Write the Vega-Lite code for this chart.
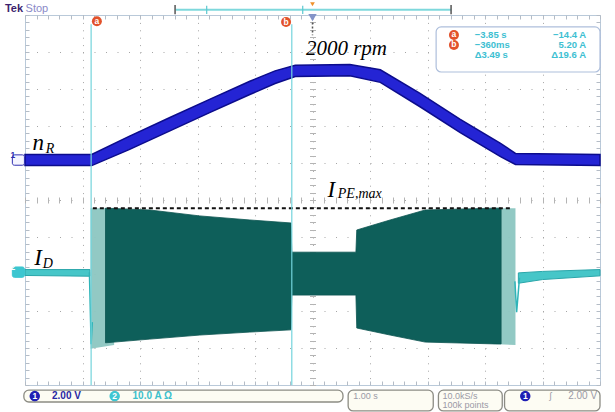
{
  "$schema": "https://vega.github.io/schema/vega-lite/v6.json",
  "width": 575,
  "height": 370,
  "autosize": {"type": "none"},
  "padding": {"left": 25, "top": 15, "right": 15, "bottom": 27},
  "background": "white",
  "config": {"view": {"stroke": "#b9c9d9", "strokeWidth": 1}, "text": {"font": "Liberation Sans"}},
  "resolve": {"axis": {"x": "independent", "y": "independent"}},
  "datasets": {
    "speed": [
      {"t": -5.0, "lo": 0.93, "hi": 1.23},
      {"t": -3.84, "lo": 0.93, "hi": 1.23},
      {"t": -3.19, "lo": 1.36, "hi": 1.72},
      {"t": -2.48, "lo": 1.87, "hi": 2.23},
      {"t": -1.79, "lo": 2.36, "hi": 2.72},
      {"t": -1.09, "lo": 2.85, "hi": 3.21},
      {"t": -0.65, "lo": 3.15, "hi": 3.49},
      {"t": -0.30, "lo": 3.34, "hi": 3.64},
      {"t": 0.65, "lo": 3.36, "hi": 3.66},
      {"t": 1.18, "lo": 3.18, "hi": 3.52},
      {"t": 1.87, "lo": 2.52, "hi": 2.88},
      {"t": 2.57, "lo": 1.82, "hi": 2.18},
      {"t": 3.27, "lo": 1.17, "hi": 1.53},
      {"t": 3.53, "lo": 0.96, "hi": 1.26},
      {"t": 5.0, "lo": 0.93, "hi": 1.23}
    ],
    "cur_pre": [
      {"t": -5.0, "lo": -2.04, "hi": -1.88},
      {"t": -3.87, "lo": -2.06, "hi": -1.88}
    ],
    "cur_pale": [
      {"seg": "A", "t": -3.86, "lo": -4.02, "hi": -0.22},
      {"seg": "A", "t": -3.45, "lo": -3.92, "hi": -0.22},
      {"seg": "B", "t": 3.12, "lo": -3.89, "hi": -0.22},
      {"seg": "B", "t": 3.53, "lo": -3.92, "hi": -0.22}
    ],
    "cur_dark": [
      {"t": -3.60, "lo": -3.86, "hi": -0.22},
      {"t": -2.83, "lo": -3.76, "hi": -0.27},
      {"t": -1.96, "lo": -3.65, "hi": -0.43},
      {"t": -1.09, "lo": -3.57, "hi": -0.54},
      {"t": -0.375, "lo": -3.51, "hi": -0.62},
      {"t": -0.36, "lo": -2.57, "hi": -1.41},
      {"t": 0.755, "lo": -2.57, "hi": -1.41},
      {"t": 0.77, "lo": -3.46, "hi": -0.81},
      {"t": 1.35, "lo": -3.65, "hi": -0.54},
      {"t": 1.96, "lo": -3.84, "hi": -0.27},
      {"t": 3.18, "lo": -3.89, "hi": -0.22},
      {"t": 3.28, "lo": -3.89, "hi": -0.22}
    ],
    "cur_post": [
      {"t": 3.58, "lo": -2.25, "hi": -1.97},
      {"t": 4.0, "lo": -2.15, "hi": -1.93},
      {"t": 5.0, "lo": -2.05, "hi": -1.88}
    ],
    "spikes": [
      {"seg": "s1", "t": -3.88, "v": -1.95},
      {"seg": "s1", "t": -3.85, "v": -3.9},
      {"seg": "s1", "t": -3.83, "v": -3.3},
      {"seg": "s2", "t": 3.52, "v": -2.2},
      {"seg": "s2", "t": 3.55, "v": -3.03},
      {"seg": "s2", "t": 3.60, "v": -2.1}
    ],
    "ipe": [{"t": -3.82, "t2": 3.44, "v": -0.22}],
    "cursors": [
      {"t": -3.85, "v": 4.75, "v2": -5.0},
      {"t": -0.36, "v": 4.75, "v2": -5.0}
    ],
    "cursor_marks": [
      {"t": -3.75, "v": 4.83, "label": "a"},
      {"t": -0.46, "v": 4.81, "label": "b"},
      {"t": 2.46, "v": 4.46, "label": "a"},
      {"t": 2.46, "v": 4.19, "label": "b"}
    ],
    "readout_box": [{"t": 2.15, "t2": 5.0, "v": 4.68, "v2": 3.46}],
    "readout_left": [
      {"t": 2.82, "v": 4.46, "label": "−3.85 s"},
      {"t": 2.82, "v": 4.19, "label": "−360ms"},
      {"t": 2.82, "v": 3.92, "label": "Δ3.49 s"}
    ],
    "readout_right": [
      {"t": 4.76, "v": 4.46, "label": "−14.4 A"},
      {"t": 4.76, "v": 4.19, "label": "5.20 A"},
      {"t": 4.76, "v": 3.92, "label": "Δ19.6 A"}
    ],
    "trig_bar": [{"t": -2.38, "t2": 2.41, "v": 5.14}],
    "trig_ticks": [
      {"t": -1.84, "v": 5.03, "v2": 5.25},
      {"t": -0.17, "v": 5.03, "v2": 5.25}
    ],
    "brackets": [
      {"t": -2.39, "v": 5.02, "v2": 5.27},
      {"t": 2.41, "v": 5.02, "v2": 5.27}
    ],
    "trig_pos": [{"t": 0.0, "v": 5.29}],
    "trig_mark": [{"t": 0.0, "v": 4.93}],
    "trig_line": [{"t": 0.0, "v": 4.8, "v2": 4.45}],
    "ch_box": [
      {"ch": "1", "t": -5.22, "t2": -5.01, "v": 1.22, "v2": 0.94},
      {"ch": "2", "t": -5.22, "t2": -5.01, "v": -1.81, "v2": -2.09}
    ],
    "foot_box": [
      {"t": -5.02, "t2": 0.53, "v": -5.14, "v2": -5.46},
      {"t": 0.62, "t2": 2.10, "v": -5.14, "v2": -5.70},
      {"t": 2.19, "t2": 3.30, "v": -5.14, "v2": -5.70},
      {"t": 3.34, "t2": 5.0, "v": -5.14, "v2": -5.70}
    ],
    "foot_blue_dot": [
      {"t": -4.83, "v": -5.30, "label": "1"},
      {"t": 3.70, "v": -5.30, "label": "1"}
    ],
    "foot_cyan_dot": [{"t": -3.44, "v": -5.30, "label": "2"}],
    "foot_blue_text": [{"t": -4.53, "v": -5.30, "label": "2.00 V"}],
    "foot_cyan_text": [{"t": -3.13, "v": -5.30, "label": "10.0 A  Ω"}],
    "foot_gray_text": [
      {"t": 0.71, "v": -5.30, "label": "1.00 s"},
      {"t": 2.26, "v": -5.30, "label": "10.0kS/s"},
      {"t": 2.26, "v": -5.55, "label": "100k points"},
      {"t": 4.12, "v": -5.30, "label": "ʃ"}
    ],
    "foot_right_text": [{"t": 4.95, "v": -5.30, "label": "2.00 V"}],
    "tek": [{"t": -5.35, "v": 5.16, "label": "Tek"}],
    "stop": [{"t": -4.99, "v": 5.16, "label": "Stop"}],
    "big_it": [
      {"t": 0.59, "v": 3.93, "label": "2000 rpm"}
    ],
    "main_sym": [
      {"t": -4.87, "v": 1.35, "label": "n"},
      {"t": -4.84, "v": -1.76, "label": "I"},
      {"t": 0.26, "v": 0.08, "label": "I"}
    ],
    "sub_sym": [
      {"t": -4.64, "v": 1.27, "label": "R"},
      {"t": -4.69, "v": -1.83, "label": "D"},
      {"t": 0.44, "v": 0.05, "label": "PE,max"}
    ]
  },
  "layer": [
    {
      "data": {"name": "speed"},
      "mark": {"type": "area", "color": "#2424d4", "stroke": "#0c0c8c", "strokeWidth": 1.5},
      "encoding": {
        "x": {"field": "t", "type": "quantitative", "scale": {"domain": [-5, 5], "nice": false, "zero": false},
              "axis": {"orient": "bottom", "values": [-4, -3, -2, -1, 0, 1, 2, 3, 4], "grid": true, "gridColor": "#a6a6a6", "gridDash": [1, 6.4], "gridWidth": 1, "ticks": false, "labels": false, "domain": false, "title": null}},
        "y": {"field": "lo", "type": "quantitative", "scale": {"domain": [-5, 5], "nice": false, "zero": false},
              "axis": {"orient": "left", "values": [-4, -3, -2, -1, 0, 1, 2, 3, 4], "grid": true, "gridColor": "#a6a6a6", "gridDash": [1, 10.5], "gridWidth": 1, "ticks": false, "labels": false, "domain": false, "title": null}},
        "y2": {"field": "hi"}
      }
    },
    {
      "data": {"name": "cur_pre"},
      "mark": {"type": "area", "color": "#46c6c8", "stroke": "#2aa6aa", "strokeWidth": 1},
      "encoding": {
        "x": {"field": "t", "type": "quantitative", "scale": {"domain": [-5, 5], "nice": false, "zero": false},
              "axis": {"orient": "bottom", "offset": -188, "tickCount": 50, "tickSize": 6, "tickColor": "#b4b4b4", "grid": false, "labels": false, "domain": false, "title": null}},
        "y": {"field": "lo", "type": "quantitative", "scale": {"domain": [-5, 5], "nice": false, "zero": false},
              "axis": {"orient": "left", "offset": -290.5, "tickCount": 50, "tickSize": 6, "tickColor": "#b4b4b4", "grid": false, "labels": false, "domain": false, "title": null}},
        "y2": {"field": "hi"}
      }
    },
    {
      "data": {"name": "cur_pale"},
      "mark": {"type": "area", "color": "#8cc6c1", "opacity": 0.95},
      "encoding": {
        "x": {"field": "t", "type": "quantitative", "scale": {"domain": [-5, 5], "nice": false, "zero": false},
              "axis": {"orient": "bottom", "offset": -370, "tickCount": 50, "tickSize": 4, "tickColor": "#b4bcc6", "grid": false, "labels": false, "domain": false, "title": null}},
        "y": {"field": "lo", "type": "quantitative", "scale": {"domain": [-5, 5], "nice": false, "zero": false},
              "axis": {"orient": "left", "offset": -575, "tickCount": 50, "tickSize": 4, "tickColor": "#b4bcc6", "grid": false, "labels": false, "domain": false, "title": null}},
        "y2": {"field": "hi"},
        "detail": {"field": "seg"}
      }
    },
    {
      "data": {"name": "cur_dark"},
      "mark": {"type": "area", "color": "#0e5f5a", "stroke": "#0b5450", "strokeWidth": 0.8},
      "encoding": {
        "x": {"field": "t", "type": "quantitative", "scale": {"domain": [-5, 5], "nice": false, "zero": false},
              "axis": {"orient": "top", "offset": -370, "tickCount": 50, "tickSize": 4, "tickColor": "#b4bcc6", "grid": false, "labels": false, "domain": false, "title": null}},
        "y": {"field": "lo", "type": "quantitative", "scale": {"domain": [-5, 5], "nice": false, "zero": false},
              "axis": {"orient": "right", "offset": -575, "tickCount": 50, "tickSize": 4, "tickColor": "#b4bcc6", "grid": false, "labels": false, "domain": false, "title": null}},
        "y2": {"field": "hi"}
      }
    },
    {
      "data": {"name": "cur_post"},
      "mark": {"type": "area", "color": "#46c6c8", "stroke": "#2aa6aa", "strokeWidth": 1},
      "encoding": {
        "x": {"field": "t", "type": "quantitative", "scale": {"domain": [-5, 5], "nice": false, "zero": false}, "axis": null},
        "y": {"field": "lo", "type": "quantitative", "scale": {"domain": [-5, 5], "nice": false, "zero": false}, "axis": null},
        "y2": {"field": "hi"}
      }
    },
    {
      "data": {"name": "spikes"},
      "mark": {"type": "line", "color": "#2fb4b8", "strokeWidth": 1.5},
      "encoding": {
        "x": {"field": "t", "type": "quantitative", "scale": {"domain": [-5, 5], "nice": false, "zero": false}, "axis": null},
        "y": {"field": "v", "type": "quantitative", "scale": {"domain": [-5, 5], "nice": false, "zero": false}, "axis": null},
        "detail": {"field": "seg"}
      }
    },
    {
      "data": {"name": "ipe"},
      "mark": {"type": "rule", "color": "#111111", "strokeWidth": 2, "strokeDash": [4, 3]},
      "encoding": {
        "x": {"field": "t", "type": "quantitative", "scale": {"domain": [-5, 5], "nice": false, "zero": false}, "axis": null},
        "x2": {"field": "t2"},
        "y": {"field": "v", "type": "quantitative", "scale": {"domain": [-5, 5], "nice": false, "zero": false}, "axis": null}
      }
    },
    {
      "data": {"name": "cursors"},
      "mark": {"type": "rule", "color": "#74d4dc", "strokeWidth": 1.2},
      "encoding": {
        "x": {"field": "t", "type": "quantitative", "scale": {"domain": [-5, 5], "nice": false, "zero": false}, "axis": null},
        "y": {"field": "v", "type": "quantitative", "scale": {"domain": [-5, 5], "nice": false, "zero": false}, "axis": null},
        "y2": {"field": "v2"}
      }
    },
    {
      "data": {"name": "readout_box"},
      "mark": {"type": "rect", "fill": "white", "stroke": "#aebfdc", "strokeWidth": 1.2, "cornerRadius": 5},
      "encoding": {
        "x": {"field": "t", "type": "quantitative", "scale": {"domain": [-5, 5], "nice": false, "zero": false}, "axis": null},
        "x2": {"field": "t2"},
        "y": {"field": "v", "type": "quantitative", "scale": {"domain": [-5, 5], "nice": false, "zero": false}, "axis": null},
        "y2": {"field": "v2"}
      }
    },
    {
      "data": {"name": "cursor_marks"},
      "mark": {"type": "point", "shape": "circle", "filled": true, "color": "#e2522b", "opacity": 1, "size": 100},
      "encoding": {
        "x": {"field": "t", "type": "quantitative", "scale": {"domain": [-5, 5], "nice": false, "zero": false}, "axis": null},
        "y": {"field": "v", "type": "quantitative", "scale": {"domain": [-5, 5], "nice": false, "zero": false}, "axis": null}
      }
    },
    {
      "data": {"name": "cursor_marks"},
      "mark": {"type": "text", "color": "white", "fontSize": 8.5, "fontWeight": "bold", "align": "center", "baseline": "middle", "dy": -0.5},
      "encoding": {
        "x": {"field": "t", "type": "quantitative", "scale": {"domain": [-5, 5], "nice": false, "zero": false}, "axis": null},
        "y": {"field": "v", "type": "quantitative", "scale": {"domain": [-5, 5], "nice": false, "zero": false}, "axis": null},
        "text": {"field": "label"}
      }
    },
    {
      "data": {"name": "readout_left"},
      "mark": {"type": "text", "color": "#3ec0d2", "fontSize": 9.5, "fontWeight": "bold", "align": "left", "baseline": "middle"},
      "encoding": {
        "x": {"field": "t", "type": "quantitative", "scale": {"domain": [-5, 5], "nice": false, "zero": false}, "axis": null},
        "y": {"field": "v", "type": "quantitative", "scale": {"domain": [-5, 5], "nice": false, "zero": false}, "axis": null},
        "text": {"field": "label"}
      }
    },
    {
      "data": {"name": "readout_right"},
      "mark": {"type": "text", "color": "#3ec0d2", "fontSize": 9.5, "fontWeight": "bold", "align": "right", "baseline": "middle"},
      "encoding": {
        "x": {"field": "t", "type": "quantitative", "scale": {"domain": [-5, 5], "nice": false, "zero": false}, "axis": null},
        "y": {"field": "v", "type": "quantitative", "scale": {"domain": [-5, 5], "nice": false, "zero": false}, "axis": null},
        "text": {"field": "label"}
      }
    },
    {
      "data": {"name": "trig_bar"},
      "mark": {"type": "rule", "color": "#7ed8dc", "strokeWidth": 2},
      "encoding": {
        "x": {"field": "t", "type": "quantitative", "scale": {"domain": [-5, 5], "nice": false, "zero": false}, "axis": null},
        "x2": {"field": "t2"},
        "y": {"field": "v", "type": "quantitative", "scale": {"domain": [-5, 5], "nice": false, "zero": false}, "axis": null}
      }
    },
    {
      "data": {"name": "trig_ticks"},
      "mark": {"type": "rule", "color": "#5cc8d0", "strokeWidth": 1.2},
      "encoding": {
        "x": {"field": "t", "type": "quantitative", "scale": {"domain": [-5, 5], "nice": false, "zero": false}, "axis": null},
        "y": {"field": "v", "type": "quantitative", "scale": {"domain": [-5, 5], "nice": false, "zero": false}, "axis": null},
        "y2": {"field": "v2"}
      }
    },
    {
      "data": {"name": "brackets"},
      "mark": {"type": "rule", "color": "#555555", "strokeWidth": 1.5},
      "encoding": {
        "x": {"field": "t", "type": "quantitative", "scale": {"domain": [-5, 5], "nice": false, "zero": false}, "axis": null},
        "y": {"field": "v", "type": "quantitative", "scale": {"domain": [-5, 5], "nice": false, "zero": false}, "axis": null},
        "y2": {"field": "v2"}
      }
    },
    {
      "data": {"name": "trig_pos"},
      "mark": {"type": "point", "shape": "triangle-down", "filled": true, "color": "#f0902a", "opacity": 1, "size": 22},
      "encoding": {
        "x": {"field": "t", "type": "quantitative", "scale": {"domain": [-5, 5], "nice": false, "zero": false}, "axis": null},
        "y": {"field": "v", "type": "quantitative", "scale": {"domain": [-5, 5], "nice": false, "zero": false}, "axis": null}
      }
    },
    {
      "data": {"name": "trig_line"},
      "mark": {"type": "rule", "color": "#555555", "strokeWidth": 1.5, "strokeDash": [2, 2]},
      "encoding": {
        "x": {"field": "t", "type": "quantitative", "scale": {"domain": [-5, 5], "nice": false, "zero": false}, "axis": null},
        "y": {"field": "v", "type": "quantitative", "scale": {"domain": [-5, 5], "nice": false, "zero": false}, "axis": null},
        "y2": {"field": "v2"}
      }
    },
    {
      "data": {"name": "trig_mark"},
      "mark": {"type": "point", "shape": "triangle-down", "filled": true, "color": "#8494c8", "opacity": 1, "size": 70},
      "encoding": {
        "x": {"field": "t", "type": "quantitative", "scale": {"domain": [-5, 5], "nice": false, "zero": false}, "axis": null},
        "y": {"field": "v", "type": "quantitative", "scale": {"domain": [-5, 5], "nice": false, "zero": false}, "axis": null}
      }
    },
    {
      "data": {"name": "tek"},
      "mark": {"type": "text", "color": "#3d1f6e", "fontSize": 11, "fontWeight": "bold", "align": "left", "baseline": "middle"},
      "encoding": {
        "x": {"field": "t", "type": "quantitative", "scale": {"domain": [-5, 5], "nice": false, "zero": false}, "axis": null},
        "y": {"field": "v", "type": "quantitative", "scale": {"domain": [-5, 5], "nice": false, "zero": false}, "axis": null},
        "text": {"field": "label"}
      }
    },
    {
      "data": {"name": "stop"},
      "mark": {"type": "text", "color": "#8a8ac8", "fontSize": 11, "align": "left", "baseline": "middle"},
      "encoding": {
        "x": {"field": "t", "type": "quantitative", "scale": {"domain": [-5, 5], "nice": false, "zero": false}, "axis": null},
        "y": {"field": "v", "type": "quantitative", "scale": {"domain": [-5, 5], "nice": false, "zero": false}, "axis": null},
        "text": {"field": "label"}
      }
    },
    {
      "data": {"name": "ch_box"},
      "mark": {"type": "rect", "cornerRadius": 2, "strokeWidth": 1},
      "encoding": {
        "x": {"field": "t", "type": "quantitative", "scale": {"domain": [-5, 5], "nice": false, "zero": false}, "axis": null},
        "x2": {"field": "t2"},
        "y": {"field": "v", "type": "quantitative", "scale": {"domain": [-5, 5], "nice": false, "zero": false}, "axis": null},
        "y2": {"field": "v2"},
        "fill": {"field": "ch", "type": "nominal", "scale": {"domain": ["1", "2"], "range": ["#f4f4ff", "#3cc6d0"]}, "legend": null},
        "stroke": {"field": "ch", "type": "nominal", "scale": {"domain": ["1", "2"], "range": ["#3030b0", "#3cc6d0"]}, "legend": null}
      }
    },
    {
      "data": {"name": "ch_box"},
      "mark": {"type": "text", "fontSize": 8.5, "fontWeight": "bold", "align": "center", "baseline": "middle", "dx": 0.5},
      "encoding": {
        "x": {"field": "t", "type": "quantitative", "scale": {"domain": [-5, 5], "nice": false, "zero": false}, "axis": null},
        "x2": {"field": "t2"},
        "y": {"field": "v", "type": "quantitative", "scale": {"domain": [-5, 5], "nice": false, "zero": false}, "axis": null},
        "y2": {"field": "v2"},
        "text": {"field": "ch"},
        "color": {"field": "ch", "type": "nominal", "scale": {"domain": ["1", "2"], "range": ["#3030b0", "#ffffff"]}, "legend": null}
      }
    },
    {
      "data": {"name": "foot_box"},
      "mark": {"type": "rect", "fill": "#fdfcf3", "stroke": "#8c8c84", "strokeWidth": 1.3, "cornerRadius": 5},
      "encoding": {
        "x": {"field": "t", "type": "quantitative", "scale": {"domain": [-5, 5], "nice": false, "zero": false}, "axis": null},
        "x2": {"field": "t2"},
        "y": {"field": "v", "type": "quantitative", "scale": {"domain": [-5, 5], "nice": false, "zero": false}, "axis": null},
        "y2": {"field": "v2"}
      }
    },
    {
      "data": {"name": "foot_blue_dot"},
      "mark": {"type": "point", "shape": "circle", "filled": true, "color": "#1e1eb4", "opacity": 1, "size": 110},
      "encoding": {
        "x": {"field": "t", "type": "quantitative", "scale": {"domain": [-5, 5], "nice": false, "zero": false}, "axis": null},
        "y": {"field": "v", "type": "quantitative", "scale": {"domain": [-5, 5], "nice": false, "zero": false}, "axis": null}
      }
    },
    {
      "data": {"name": "foot_cyan_dot"},
      "mark": {"type": "point", "shape": "circle", "filled": true, "color": "#3cc6d2", "opacity": 1, "size": 110},
      "encoding": {
        "x": {"field": "t", "type": "quantitative", "scale": {"domain": [-5, 5], "nice": false, "zero": false}, "axis": null},
        "y": {"field": "v", "type": "quantitative", "scale": {"domain": [-5, 5], "nice": false, "zero": false}, "axis": null}
      }
    },
    {
      "data": {"name": "foot_blue_dot"},
      "mark": {"type": "text", "color": "white", "fontSize": 8.5, "fontWeight": "bold", "align": "center", "baseline": "middle"},
      "encoding": {
        "x": {"field": "t", "type": "quantitative", "scale": {"domain": [-5, 5], "nice": false, "zero": false}, "axis": null},
        "y": {"field": "v", "type": "quantitative", "scale": {"domain": [-5, 5], "nice": false, "zero": false}, "axis": null},
        "text": {"field": "label"}
      }
    },
    {
      "data": {"name": "foot_cyan_dot"},
      "mark": {"type": "text", "color": "white", "fontSize": 8.5, "fontWeight": "bold", "align": "center", "baseline": "middle"},
      "encoding": {
        "x": {"field": "t", "type": "quantitative", "scale": {"domain": [-5, 5], "nice": false, "zero": false}, "axis": null},
        "y": {"field": "v", "type": "quantitative", "scale": {"domain": [-5, 5], "nice": false, "zero": false}, "axis": null},
        "text": {"field": "label"}
      }
    },
    {
      "data": {"name": "foot_blue_text"},
      "mark": {"type": "text", "color": "#2828a4", "fontSize": 10, "fontWeight": "bold", "align": "left", "baseline": "middle"},
      "encoding": {
        "x": {"field": "t", "type": "quantitative", "scale": {"domain": [-5, 5], "nice": false, "zero": false}, "axis": null},
        "y": {"field": "v", "type": "quantitative", "scale": {"domain": [-5, 5], "nice": false, "zero": false}, "axis": null},
        "text": {"field": "label"}
      }
    },
    {
      "data": {"name": "foot_cyan_text"},
      "mark": {"type": "text", "color": "#3cc0cc", "fontSize": 10, "fontWeight": "bold", "align": "left", "baseline": "middle"},
      "encoding": {
        "x": {"field": "t", "type": "quantitative", "scale": {"domain": [-5, 5], "nice": false, "zero": false}, "axis": null},
        "y": {"field": "v", "type": "quantitative", "scale": {"domain": [-5, 5], "nice": false, "zero": false}, "axis": null},
        "text": {"field": "label"}
      }
    },
    {
      "data": {"name": "foot_gray_text"},
      "mark": {"type": "text", "color": "#9a9aa6", "fontSize": 9, "align": "left", "baseline": "middle"},
      "encoding": {
        "x": {"field": "t", "type": "quantitative", "scale": {"domain": [-5, 5], "nice": false, "zero": false}, "axis": null},
        "y": {"field": "v", "type": "quantitative", "scale": {"domain": [-5, 5], "nice": false, "zero": false}, "axis": null},
        "text": {"field": "label"}
      }
    },
    {
      "data": {"name": "foot_right_text"},
      "mark": {"type": "text", "color": "#9a9aa6", "fontSize": 10, "align": "right", "baseline": "middle"},
      "encoding": {
        "x": {"field": "t", "type": "quantitative", "scale": {"domain": [-5, 5], "nice": false, "zero": false}, "axis": null},
        "y": {"field": "v", "type": "quantitative", "scale": {"domain": [-5, 5], "nice": false, "zero": false}, "axis": null},
        "text": {"field": "label"}
      }
    },
    {
      "data": {"name": "big_it"},
      "mark": {"type": "text", "color": "#000000", "font": "Liberation Serif", "fontStyle": "italic", "fontSize": 21, "align": "center", "baseline": "alphabetic"},
      "encoding": {
        "x": {"field": "t", "type": "quantitative", "scale": {"domain": [-5, 5], "nice": false, "zero": false}, "axis": null},
        "y": {"field": "v", "type": "quantitative", "scale": {"domain": [-5, 5], "nice": false, "zero": false}, "axis": null},
        "text": {"field": "label"}
      }
    },
    {
      "data": {"name": "main_sym"},
      "mark": {"type": "text", "color": "#000000", "font": "Liberation Serif", "fontStyle": "italic", "fontSize": 23, "align": "left", "baseline": "alphabetic"},
      "encoding": {
        "x": {"field": "t", "type": "quantitative", "scale": {"domain": [-5, 5], "nice": false, "zero": false}, "axis": null},
        "y": {"field": "v", "type": "quantitative", "scale": {"domain": [-5, 5], "nice": false, "zero": false}, "axis": null},
        "text": {"field": "label"}
      }
    },
    {
      "data": {"name": "sub_sym"},
      "mark": {"type": "text", "color": "#000000", "font": "Liberation Serif", "fontStyle": "italic", "fontSize": 14, "align": "left", "baseline": "alphabetic"},
      "encoding": {
        "x": {"field": "t", "type": "quantitative", "scale": {"domain": [-5, 5], "nice": false, "zero": false}, "axis": null},
        "y": {"field": "v", "type": "quantitative", "scale": {"domain": [-5, 5], "nice": false, "zero": false}, "axis": null},
        "text": {"field": "label"}
      }
    }
  ]
}
